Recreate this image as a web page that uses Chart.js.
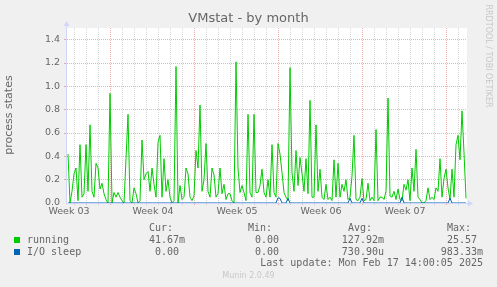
<!DOCTYPE html>
<html>
<head>
<meta charset="utf-8">
<title>VMstat - by month</title>
<script src="https://cdn.jsdelivr.net/npm/chart.js@4.4.1/dist/chart.umd.min.js"></script>
<style>
  html, body { margin: 0; padding: 0; background: #F0F0F0; }
  #wrap { position: relative; width: 497px; height: 287px; overflow: hidden; color: #666; }
  #chart { position: absolute; left: 0; top: 0; }
  .t { position: absolute; white-space: pre; }
  .sans { font-family: "DejaVu Sans", sans-serif; }
  .mono { font-family: "DejaVu Sans Mono", monospace; font-size: 10px; line-height: 12px; }
</style>
</head>
<body>
<div id="wrap">
  <canvas id="chart" width="497" height="287"></canvas>
</div>
<script>
const seriesNames = ['running', 'I/O sleep'];
const seriesColors = ['#00CC00', '#0066B3'];
const statHeaders = ['Cur:', 'Min:', 'Avg:', 'Max:'];
const curValues = ['41.67m', '0.00 '];
const minValues = ['0.00 ', '0.00 '];
const avgValues = ['127.92m', '730.90u'];
const maxValues = ['25.57 ', '983.33m'];
const lastUpdate = 'Last update: Mon Feb 17 14:00:05 2025';

// time axis in hours from the left edge of the graph
const weekLabels = ['Week 03', 'Week 04', 'Week 05', 'Week 06', 'Week 07'];
const weekLabelHours = [4, 172, 340, 508, 676];
const weekStartHours = [86, 254, 422, 590, 758];
const rangeHours = 800;
const firstSampleHour = 2;
const sampleStepHours = 4;

// 4 hour averages
const running = [
  0.42, 0.0, 0.1, 0.25, 0.30, 0.02, 0.50, 0.05, 0.08, 0.50, 0.1, 0.67, 0.1, 0.05, 0.34, 0.30, 0.12, 0.17, 0.08, 0.03,
  0.0, 0.94, 0.0, 0.09, 0.05, 0.09, 0.05, 0.02, 0.0, 0.38, 0.76, 0.02, 0.0, 0.13, 0.08, 0.0, 0.02, 0.54, 0.2, 0.25,
  0.27, 0.1, 0.30, 0.16, 0.05, 0.52, 0.58, 0.05, 0.38, 0.1, 0.20, 0.05, 0.0, 0.02, 1.17, 0.0, 0.15, 0.03, 0.05, 0.30,
  0.25, 0.05, 0.02, 0.06, 0.45, 0.3, 0.84, 0.1, 0.2, 0.51, 0.1, 0.05, 0.30, 0.24, 0.05, 0.08, 0.30, 0.08, 0.16, 0.03,
  0.08, 0.08, 0.02, 0.0, 1.21, 0.30, 0.09, 0.15, 0.09, 0.02, 0.76, 0.09, 0.05, 0.76, 0.09, 0.09, 0.15, 0.29, 0.09, 0.05,
  0.2, 0.05, 0.50, 0.09, 0.05, 0.51, 0.42, 0.26, 0.09, 0.05, 0.02, 1.16, 0.26, 0.1, 0.45, 0.15, 0.39, 0.25, 0.1, 0.38,
  0.08, 0.88, 0.05, 0.05, 0.67, 0.1, 0.29, 0.05, 0.03, 0.16, 0.03, 0.05, 0.02, 0.37, 0.05, 0.34, 0.05, 0.16, 0.1, 0.2,
  0.03, 0.05, 0.23, 0.58, 0.03, 0.02, 0.05, 0.21, 0.02, 0.03, 0.17, 0.02, 0.05, 0.02, 0.63, 0.02, 0.05, 0.05, 0.03, 0.1,
  0.90, 0.06, 0.05, 0.1, 0.03, 0.12, 0.03, 0.02, 0.16, 0.11, 0.2, 0.02, 0.30, 0.1, 0.46, 0.05, 0.03, 0.0, 0.0, 0.02,
  0.13, 0.03, 0.05, 0.03, 0.13, 0.1, 0.38, 0.05, 0.21, 0.29, 0.13, 0.03, 0.29, 0.05, 0.50, 0.58, 0.37, 0.79, 0.43, 0.04
];
const ioSleep = [
  0, 0, 0, 0, 0, 0, 0, 0, 0, 0, 0, 0, 0, 0, 0, 0, 0, 0, 0, 0,
  0, 0, 0, 0, 0, 0, 0, 0, 0, 0, 0, 0, 0, 0, 0, 0, 0, 0, 0, 0,
  0, 0, 0, 0, 0, 0, 0, 0, 0, 0, 0, 0, 0, 0, 0, 0, 0, 0, 0, 0,
  0, 0, 0, 0, 0, 0, 0, 0, 0, 0, 0, 0, 0, 0, 0, 0, 0, 0, 0, 0,
  0, 0, 0, 0, 0, 0, 0, 0, 0, 0, 0, 0, 0, 0, 0, 0, 0, 0, 0, 0,
  0, 0, 0, 0, 0, 0.045, 0.04, 0, 0, 0, 0.04, 0, 0, 0, 0, 0, 0, 0, 0, 0,
  0, 0, 0, 0, 0, 0, 0, 0, 0, 0, 0, 0, 0, 0, 0, 0, 0, 0, 0, 0,
  0, 0.04, 0, 0, 0, 0, 0, 0.04, 0, 0, 0, 0, 0, 0, 0, 0, 0, 0, 0, 0,
  0, 0, 0, 0, 0, 0, 0, 0.05, 0, 0, 0, 0, 0, 0, 0, 0, 0, 0, 0, 0,
  0, 0, 0, 0, 0, 0, 0, 0, 0, 0, 0, 0.04, 0, 0, 0, 0, 0, 0, 0, 0
];

const FONT = '#666666';
const GRID = 'rgba(150, 150, 150, 0.4)';
const MGRID = 'rgba(222, 79, 79, 0.45)';
const AXIS = '#CFD6F8';

const toPoints = arr => arr.map((v, i) => ({ x: firstSampleHour + i * sampleStepHours, y: v }));

// daily minor grid, aligned on the week starts
const xTicks = [];
for (let h = weekStartHours[0] % 24; h <= rangeHours; h += 24) xTicks.push(h);
weekLabelHours.forEach(h => xTicks.push(h));
xTicks.sort((a, b) => a - b);

const yTenths = [];
for (let i = 0; i <= 15; i++) yTenths.push(i);

const canvasBg = {
  id: 'canvasBg',
  beforeDraw(chart) {
    const { ctx, chartArea: a } = chart;
    ctx.save();
    ctx.fillStyle = '#F0F0F0';
    ctx.fillRect(0, 0, chart.width, chart.height);
    ctx.fillStyle = '#FFFFFF';
    ctx.fillRect(a.left, a.top, a.right - a.left, a.bottom - a.top);
    ctx.restore();
  }
};

const axisArrows = {
  id: 'axisArrows',
  afterDatasetsDraw(chart) {
    const { ctx, chartArea: a } = chart;
    const x0 = Math.round(a.left) - 0.5;
    const y0 = Math.round(a.bottom) + 0.5;
    ctx.save();
    ctx.strokeStyle = AXIS;
    ctx.fillStyle = AXIS;
    ctx.lineWidth = 1;
    ctx.beginPath();
    ctx.moveTo(x0, y0);
    ctx.lineTo(x0, a.top - 3);
    ctx.moveTo(x0, y0);
    ctx.lineTo(a.right + 2, y0);
    ctx.stroke();
    ctx.beginPath();
    ctx.moveTo(x0 - 3, a.top - 2);
    ctx.lineTo(x0 + 3, a.top - 2);
    ctx.lineTo(x0, a.top - 7);
    ctx.closePath();
    ctx.fill();
    ctx.beginPath();
    ctx.moveTo(a.right + 1, y0 - 3);
    ctx.lineTo(a.right + 1, y0 + 3);
    ctx.lineTo(a.right + 6, y0);
    ctx.closePath();
    ctx.fill();
    ctx.restore();
  }
};

new Chart(document.getElementById('chart'), {
  type: 'line',
  plugins: [canvasBg, axisArrows],
  data: {
    datasets: [
      {
        label: seriesNames[0],
        data: toPoints(running),
        borderColor: seriesColors[0],
        borderWidth: 1,
        pointRadius: 0,
        order: 1
      },
      {
        label: seriesNames[1],
        data: toPoints(ioSleep),
        borderColor: seriesColors[1],
        borderWidth: 1,
        pointRadius: 0,
        order: 0
      }
    ]
  },
  options: {
    responsive: false,
    animation: false,
    devicePixelRatio: 1,
    layout: { padding: { top: 28, right: 30, left: 0, bottom: 0 } },
    elements: { line: { tension: 0 } },
    scales: {
      x: {
        type: 'linear',
        min: 0,
        max: rangeHours,
        afterBuildTicks: s => { s.ticks = xTicks.map(v => ({ value: v })); },
        afterFit: s => { s.height = 84; },
        grid: {
          color: ctx => {
            const v = ctx.tick ? ctx.tick.value : null;
            if (weekStartHours.includes(v)) return MGRID;
            if (weekLabelHours.includes(v)) return 'rgba(0,0,0,0)';
            return GRID;
          },
          tickLength: 2
        },
        border: { display: false, dash: [1, 1] },
        ticks: {
          autoSkip: false,
          maxRotation: 0,
          padding: 1,
          color: FONT,
          font: { family: 'DejaVu Sans', size: 9.5 },
          callback: v => {
            const i = weekLabelHours.indexOf(v);
            return i >= 0 ? weekLabels[i] : '';
          }
        }
      },
      y: {
        min: 0,
        max: 1.5,
        afterBuildTicks: s => { s.ticks = yTenths.map(t => ({ value: t / 10 })); },
        afterFit: s => { s.width = 67; },
        grid: {
          color: ctx => {
            const t = ctx.tick ? Math.round(ctx.tick.value * 10) : 0;
            if (t === 0) return 'rgba(0,0,0,0)';
            return t % 2 === 0 ? MGRID : GRID;
          },
          tickLength: 3
        },
        border: { display: false, dash: [1, 1] },
        ticks: {
          padding: 4,
          color: FONT,
          font: { family: 'DejaVu Sans', size: 9.5 },
          callback: v => {
            const t = Math.round(v * 10);
            return t % 2 === 0 ? (t / 10).toFixed(1) : '';
          }
        }
      }
    },
    plugins: {
      legend: { display: false },
      tooltip: { enabled: false }
    }
  }
});

// texts around the graph
const wrap = document.getElementById('wrap');
function addText(text, cls, style) {
  const el = document.createElement('div');
  el.className = 't ' + cls;
  el.textContent = text;
  Object.assign(el.style, style);
  wrap.appendChild(el);
  return el;
}

addText('VMstat - by month', 'sans', {
  left: '0px', width: '497px', textAlign: 'center', top: '10px',
  fontSize: '13px', lineHeight: '15px'
});
addText('process states', 'sans', {
  left: '-61px', top: '108px', width: '140px', height: '14px', textAlign: 'center',
  fontSize: '11px', lineHeight: '14px', transform: 'rotate(-90deg)'
});
addText('RRDTOOL / TOBI OETIKER', 'sans', {
  left: '428px', top: '51px', width: '120px', height: '10px', textAlign: 'center',
  fontSize: '8px', lineHeight: '10px', color: '#C8C8C8', transform: 'rotate(90deg)'
});

const headerLeft = [149, 248, 348, 447];
const valueRight = [185, 285, 384, 483];
statHeaders.forEach((h, i) => addText(h, 'mono', { left: headerLeft[i] + 'px', top: '221.5px' }));

const rowTops = [233.8, 245.5];
const columns = [curValues, minValues, avgValues, maxValues];
seriesNames.forEach((name, r) => {
  const sq = document.createElement('div');
  Object.assign(sq.style, {
    position: 'absolute', left: '14px', top: Math.round(rowTops[r] + 3.3) + 'px',
    width: '6px', height: '6px', background: seriesColors[r]
  });
  wrap.appendChild(sq);
  addText(name, 'mono', { left: '27px', top: rowTops[r] + 'px' });
  columns.forEach((col, c) => {
    addText(col[r], 'mono', { right: (497 - valueRight[c]) + 'px', top: rowTops[r] + 'px' });
  });
});

addText(lastUpdate, 'mono', { right: '14px', top: '257.2px' });
addText('Munin 2.0.49', 'sans', {
  left: '0px', width: '497px', textAlign: 'center', top: '271.2px',
  fontSize: '8px', lineHeight: '10px', color: '#C8C8C8'
});
</script>
</body>
</html>
